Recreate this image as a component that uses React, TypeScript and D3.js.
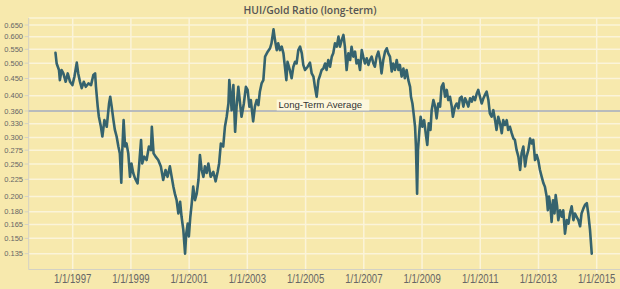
import React from "react";
import * as d3 from "d3";

// HUI/Gold ratio, [decimal year, ratio]
const ratio1996to2000: [number, number][] = [
  [1996.41,0.537],[1996.45,0.499],[1996.53,0.477],[1996.56,0.445],[1996.62,0.477],[1996.68,0.466],[1996.76,0.440],[1996.83,0.466],[1996.91,0.440],[1996.99,0.430],
  [1997.06,0.456],[1997.14,0.502],[1997.19,0.466],[1997.25,0.440],[1997.31,0.421],[1997.38,0.440],[1997.45,0.425],[1997.54,0.435],[1997.63,0.430],[1997.71,0.461],
  [1997.77,0.466],[1997.80,0.425],[1997.86,0.371],[1997.90,0.346],[1997.97,0.323],[1998.02,0.302],[1998.09,0.338],[1998.17,0.323],[1998.25,0.379],[1998.29,0.397],
  [1998.34,0.371],[1998.40,0.338],[1998.45,0.316],[1998.51,0.302],[1998.57,0.282],[1998.62,0.269],[1998.67,0.220],[1998.70,0.269],[1998.75,0.338],[1998.80,0.282],
  [1998.85,0.288],[1998.91,0.269],[1998.97,0.229],[1999.02,0.251],[1999.08,0.235],[1999.14,0.227],[1999.23,0.219],[1999.28,0.246],[1999.35,0.295],[1999.39,0.251],
  [1999.46,0.263],[1999.54,0.257],[1999.62,0.282],[1999.69,0.275],[1999.72,0.323],[1999.78,0.269],[1999.85,0.263],[1999.94,0.257],[2000.03,0.246],[2000.11,0.224],
  [2000.19,0.240],[2000.26,0.229],[2000.34,0.246],[2000.40,0.229],[2000.46,0.214],[2000.51,0.204],[2000.57,0.195],[2000.63,0.178],[2000.69,0.193],[2000.74,0.174],
  [2000.80,0.159],[2000.86,0.135],[2000.90,0.155],[2000.95,0.166],[2000.99,0.152],
];
const ratio2001to2005: [number, number][] = [
  [2001.04,0.174],[2001.09,0.191],[2001.14,0.214],[2001.20,0.195],[2001.26,0.204],[2001.32,0.224],[2001.37,0.266],[2001.43,0.240],[2001.49,0.229],[2001.54,0.246],
  [2001.60,0.235],[2001.66,0.251],[2001.74,0.229],[2001.83,0.237],[2001.91,0.222],[2001.98,0.237],[2002.03,0.251],[2002.09,0.288],[2002.17,0.282],[2002.23,0.323],
  [2002.29,0.346],[2002.35,0.379],[2002.38,0.445],[2002.43,0.397],[2002.46,0.362],[2002.52,0.430],[2002.58,0.312],[2002.63,0.371],[2002.69,0.425],[2002.75,0.379],
  [2002.80,0.346],[2002.88,0.379],[2002.95,0.425],[2003.01,0.416],[2003.07,0.371],[2003.12,0.388],[2003.20,0.335],[2003.26,0.371],[2003.32,0.388],[2003.38,0.375],
  [2003.43,0.411],[2003.49,0.435],[2003.55,0.445],[2003.61,0.523],[2003.70,0.541],[2003.78,0.554],[2003.83,0.573],[2003.90,0.631],[2003.95,0.586],[2004.01,0.547],
  [2004.06,0.573],[2004.12,0.547],[2004.18,0.560],[2004.24,0.535],[2004.29,0.488],[2004.34,0.445],[2004.38,0.505],[2004.46,0.477],[2004.52,0.451],[2004.58,0.488],
  [2004.64,0.505],[2004.69,0.499],[2004.75,0.547],[2004.81,0.560],[2004.87,0.535],[2004.92,0.494],[2004.98,0.477],[2005.07,0.488],[2005.15,0.502],[2005.21,0.466],
  [2005.27,0.456],[2005.32,0.425],[2005.38,0.397],[2005.44,0.445],[2005.50,0.461],[2005.55,0.477],[2005.61,0.482],
];
const ratio2006to2010: [number, number][] = [
  [2005.67,0.499],[2005.72,0.477],[2005.78,0.511],[2005.84,0.488],[2005.90,0.523],[2005.95,0.535],[2006.01,0.573],[2006.07,0.560],[2006.13,0.600],[2006.18,0.560],
  [2006.24,0.586],[2006.30,0.607],[2006.35,0.560],[2006.41,0.477],[2006.47,0.535],[2006.53,0.511],[2006.58,0.560],[2006.64,0.523],[2006.70,0.541],[2006.75,0.499],
  [2006.81,0.511],[2006.87,0.477],[2006.93,0.547],[2006.98,0.523],[2007.04,0.499],[2007.10,0.517],[2007.16,0.494],[2007.21,0.511],[2007.27,0.523],[2007.33,0.499],
  [2007.38,0.488],[2007.44,0.523],[2007.50,0.541],[2007.56,0.511],[2007.61,0.466],[2007.67,0.511],[2007.73,0.541],[2007.79,0.554],[2007.84,0.535],[2007.90,0.523],
  [2007.96,0.472],[2008.01,0.499],[2008.07,0.477],[2008.13,0.511],[2008.19,0.477],[2008.24,0.494],[2008.30,0.456],[2008.36,0.482],[2008.41,0.451],[2008.47,0.477],
  [2008.53,0.445],[2008.59,0.425],[2008.62,0.397],[2008.67,0.379],[2008.71,0.354],[2008.76,0.323],[2008.79,0.282],[2008.83,0.204],[2008.86,0.275],[2008.91,0.316],
  [2008.95,0.346],[2009.01,0.323],[2009.07,0.338],[2009.14,0.302],[2009.18,0.285],[2009.23,0.331],[2009.29,0.316],[2009.33,0.362],[2009.39,0.388],[2009.45,0.371],
  [2009.50,0.342],[2009.56,0.379],[2009.62,0.371],[2009.67,0.425],[2009.73,0.435],[2009.79,0.397],[2009.85,0.416],[2009.90,0.388],[2009.96,0.397],[2010.02,0.371],
  [2010.06,0.346],[2010.13,0.371],[2010.19,0.379],[2010.25,0.367],[2010.30,0.393],[2010.36,0.397],[2010.42,0.371],[2010.48,0.393],[2010.53,0.384],[2010.59,0.371],
  [2010.65,0.393],[2010.71,0.384],[2010.76,0.397],[2010.82,0.388],[2010.88,0.406],[2010.93,0.416],[2010.99,0.397],
];
const ratio2011to2014: [number, number][] = [
  [2011.05,0.379],[2011.11,0.393],[2011.16,0.402],[2011.22,0.411],[2011.28,0.388],[2011.33,0.354],[2011.39,0.346],[2011.45,0.362],[2011.51,0.338],[2011.56,0.316],
  [2011.62,0.346],[2011.68,0.331],[2011.74,0.309],[2011.79,0.338],[2011.85,0.327],[2011.91,0.338],[2011.96,0.316],[2012.02,0.323],[2012.08,0.309],[2012.14,0.298],
  [2012.19,0.295],[2012.25,0.275],[2012.31,0.263],[2012.37,0.240],[2012.42,0.269],[2012.48,0.282],[2012.54,0.246],[2012.59,0.263],[2012.65,0.275],[2012.71,0.298],
  [2012.77,0.288],[2012.82,0.295],[2012.88,0.257],[2012.94,0.266],[2012.99,0.257],[2013.05,0.240],[2013.11,0.229],[2013.17,0.219],[2013.22,0.214],[2013.28,0.200],
  [2013.32,0.182],[2013.36,0.200],[2013.41,0.187],[2013.45,0.168],[2013.50,0.195],[2013.55,0.178],[2013.59,0.202],[2013.64,0.187],[2013.68,0.170],[2013.74,0.182],
  [2013.80,0.174],[2013.85,0.182],[2013.91,0.155],[2013.97,0.170],[2014.03,0.166],[2014.08,0.178],[2014.14,0.187],[2014.20,0.170],[2014.25,0.178],[2014.31,0.174],
  [2014.37,0.170],[2014.43,0.163],[2014.48,0.178],[2014.54,0.184],[2014.60,0.189],[2014.66,0.191],[2014.71,0.178],[2014.77,0.159],[2014.83,0.135],
];

const longTermAverage = 0.36;
const yTickValues = [0.135, 0.15, 0.165, 0.18, 0.2, 0.225, 0.25, 0.275, 0.3, 0.33, 0.36, 0.4, 0.45, 0.5, 0.55, 0.6, 0.65];
const xTickYears = [1997, 1999, 2001, 2003, 2005, 2007, 2009, 2011, 2013, 2015];
const title = "HUI/Gold Ratio (long-term)";
const avgLabel = "Long-Term Average";

function toDate(y: number): Date {
  const yr = Math.floor(y);
  const s = new Date(yr, 0, 1).getTime();
  const e = new Date(yr + 1, 0, 1).getTime();
  return new Date(s + (y - yr) * (e - s));
}

const W = 620, H = 289;
const P = { left: 28.7, right: 620, top: 18, bottom: 269.5 };
const BG = "#f7e9ad";
const GRID = "#fbf4d9";
const AXIS = "#d3d1c4";
const LINE = "#35636e";
const FONT = "'Liberation Sans', Arial, sans-serif";

export default function App() {
  const data = [...ratio1996to2000, ...ratio2001to2005, ...ratio2006to2010, ...ratio2011to2014];
  const x = d3.scaleTime().domain([toDate(1997), toDate(2015)]).range([72.7, 596.7]);
  const y = d3.scaleLog().domain([0.135, 0.65]).range([253.7, 25]);
  const line = d3.line<[number, number]>()
    .x(d => x(toDate(d[0])))
    .y(d => y(d[1]))
    .curve(d3.curveLinear);
  const fmt = d3.format(".3f");
  const avgY = y(longTermAverage);

  return (
    <svg width={W} height={H} style={{ position: "absolute", left: 0, top: 0, display: "block" }}>
      <defs>
        <clipPath id="plotClip">
          <rect x={P.left} y={P.top} width={P.right - P.left} height={P.bottom - P.top} />
        </clipPath>
      </defs>
      <rect x={0} y={0} width={W} height={H} fill={BG} />
      <text x={310} y={13.5} textAnchor="middle" fontFamily="'Open Sans', Arial, sans-serif" fontWeight={600}
        fontSize={11} fill="#555" textLength={133} lengthAdjust="spacingAndGlyphs">{title}</text>

      {/* top border */}
      <line x1={P.left} x2={P.right} y1={P.top} y2={P.top} stroke={GRID} strokeWidth={1.5} />
      {/* horizontal grid */}
      {yTickValues.map(v => (
        <line key={"hg" + v} x1={P.left} x2={P.right} y1={y(v)} y2={y(v)} stroke={GRID} strokeWidth={1.5} />
      ))}
      {/* vertical grid */}
      {xTickYears.map(yr => (
        <line key={"vg" + yr} x1={x(toDate(yr))} x2={x(toDate(yr))} y1={P.top} y2={P.bottom + 3} stroke={GRID} strokeWidth={1.5} />
      ))}

      {/* axes */}
      <line x1={P.left} x2={P.left} y1={P.top} y2={P.bottom} stroke={AXIS} strokeWidth={1} />
      <line x1={P.left} x2={P.right} y1={P.bottom} y2={P.bottom} stroke={AXIS} strokeWidth={1} />
      {yTickValues.map(v => (
        <g key={"yt" + v}>
          <line x1={P.left - 4} x2={P.left} y1={y(v)} y2={y(v)} stroke={AXIS} strokeWidth={1} />
          <text x={23} y={y(v)} dy="0.35em" textAnchor="end" fontFamily={FONT} fontSize={7.5} fill="#666">{fmt(v)}</text>
        </g>
      ))}
      {xTickYears.map(yr => (
        <text key={"xt" + yr} transform={`translate(${x(toDate(yr))},283.3) scale(1,1.28)`} textAnchor="middle"
          fontFamily={FONT} fontSize={9.6} fill="#666">{`1/1/${yr}`}</text>
      ))}

      {/* average line */}
      <line x1={P.left} x2={P.right} y1={avgY} y2={avgY} stroke="#a2a8b6" strokeWidth={1.6} />

      {/* series */}
      <g clipPath="url(#plotClip)">
        <path d={line(data) || ""} fill="none" stroke={LINE} strokeWidth={2.6} strokeLinejoin="round" strokeLinecap="round" />
      </g>

      {/* average label */}
      <rect x={276.7} y={avgY - 11.5} width={92.6} height={11} fill="#fdf7df" opacity={0.92} />
      <text x={278.5} y={avgY - 2.8} fontFamily={FONT} fontSize={9.6} fill="#333">{avgLabel}</text>
    </svg>
  );
}
